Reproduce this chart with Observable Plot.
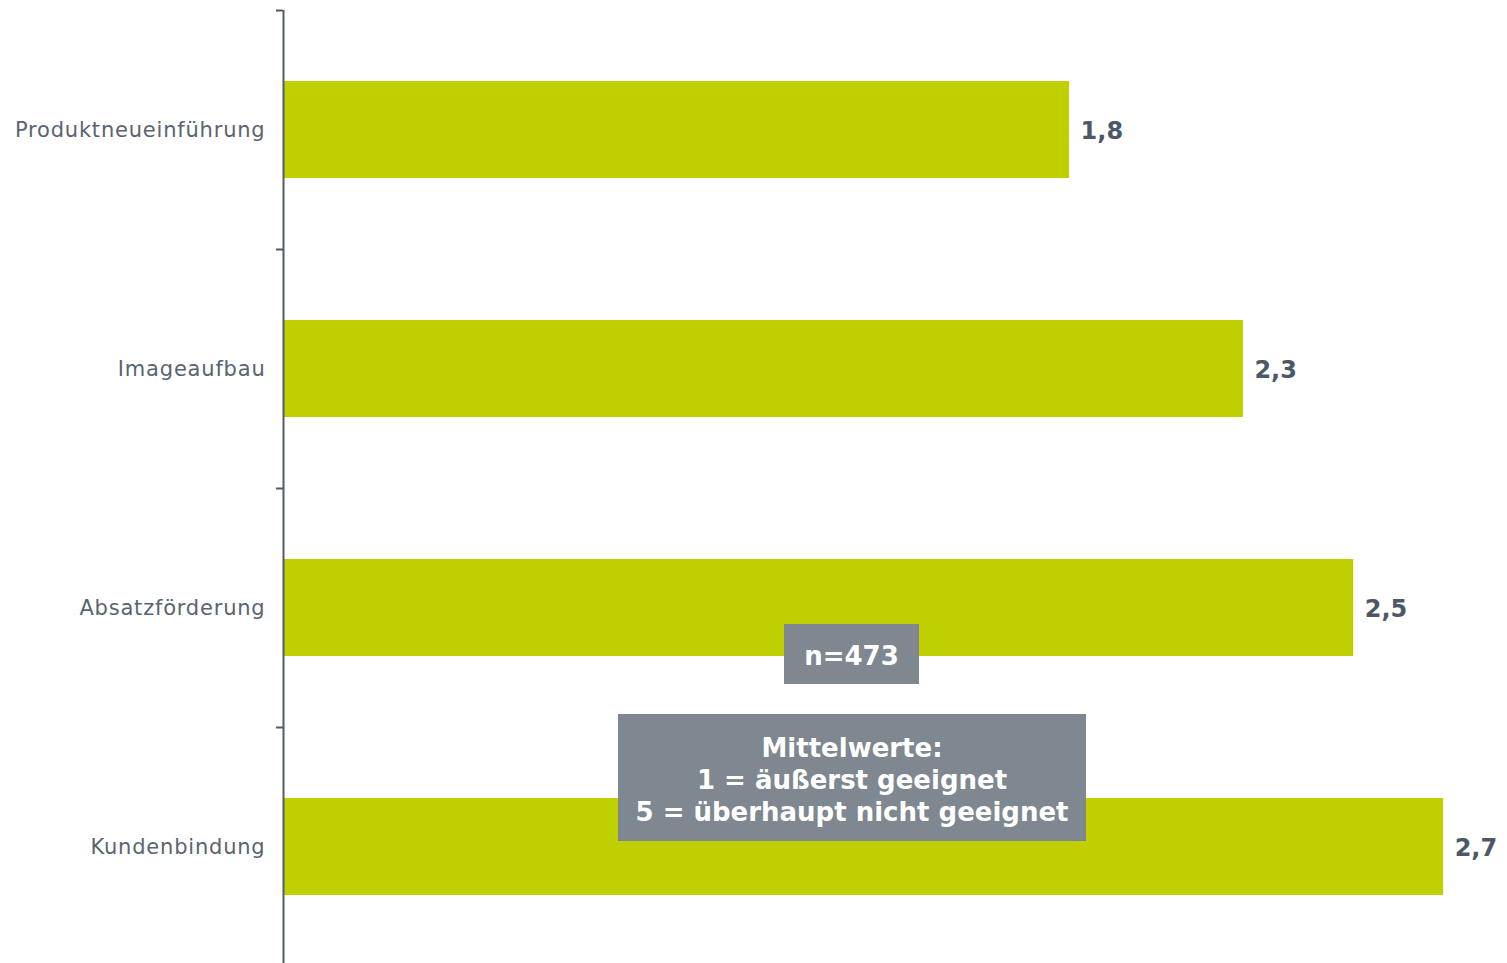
<!DOCTYPE html>
<html>
<head>
<meta charset="utf-8">
<script src="https://cdn.jsdelivr.net/npm/d3@7"></script>
<script src="https://cdn.jsdelivr.net/npm/@observablehq/plot@0.6"></script>
<style>
  html, body { margin: 0; padding: 0; background: #fff; }
  #wrap { position: relative; width: 1507px; height: 963px; overflow: hidden; font-family: "DejaVu Sans", Verdana, sans-serif; }
  #wrap svg [aria-label="y-axis tick label"] text { letter-spacing: 0.8px; }
  .box { position: absolute; background: #7f8790; color: #fff; font-weight: bold; font-size: 26px; text-align: center; box-sizing: border-box; display: flex; flex-direction: column; justify-content: center; line-height: 32px; padding-top: 4px; }
</style>
</head>
<body>
<div id="wrap"></div>
<script>
// Data
const categories = ["Produktneueinführung", "Imageaufbau", "Absatzförderung", "Kundenbindung"];
const values = [1.845, 2.253, 2.512, 2.723];
const sampleNote = "n=473";
const legendLines = ["Mittelwerte:", "1 = äußerst geeignet", "5 = überhaupt nicht geeignet"];

const data = categories.map((c, i) => ({category: c, value: values[i]}));

const W = 1507, H = 963;
const mLeft = 283, mRight = 14, mTop = 10, mBottom = -3;
const xMax = 2.84;
const step = (H - mTop - mBottom) / categories.length;
const barH = 97;
const tickLen = 7 * xMax / (W - mLeft - mRight);
const axisColor = "#525c68";

const fmt = v => v.toFixed(1).replace(".", ",");

const chart = Plot.plot({
  width: W,
  height: H,
  marginLeft: mLeft,
  marginRight: mRight,
  marginTop: mTop,
  marginBottom: mBottom,
  style: {fontFamily: "'DejaVu Sans', Verdana, sans-serif", background: "#fff"},
  x: {domain: [0, xMax], axis: null},
  y: {domain: categories, padding: 0, label: null},
  marks: [
    Plot.barX(data, {
      x: "value", y: "category", fill: "#bfcf00",
      insetTop: (step - barH) / 2, insetBottom: (step - barH) / 2
    }),
    Plot.axisY({tickSize: 0, tickPadding: 18, fontSize: 21, color: "#5a6470", label: null}),
    Plot.ruleX([0], {stroke: axisColor, strokeWidth: 2}),
    Plot.ruleY(categories, {y: d => d, x1: -tickLen, x2: 0, dy: -step / 2, stroke: axisColor, strokeWidth: 2}),
    Plot.text(data, {
      x: "value", y: "category", text: d => fmt(d.value),
      dx: 11, dy: 1, textAnchor: "start", fontSize: 24, fontWeight: "bold", fill: "#4d5866"
    })
  ]
});

const wrap = document.getElementById("wrap");
wrap.appendChild(chart);

const b1 = document.createElement("div");
b1.className = "box";
b1.style.cssText = "left:784px;top:624px;width:135px;height:60px;";
b1.textContent = sampleNote;
wrap.appendChild(b1);

const b2 = document.createElement("div");
b2.className = "box";
b2.style.cssText = "left:618px;top:714px;width:468px;height:127px;";
legendLines.forEach(t => { const d = document.createElement("div"); d.textContent = t; b2.appendChild(d); });
wrap.appendChild(b2);
</script>
</body>
</html>
